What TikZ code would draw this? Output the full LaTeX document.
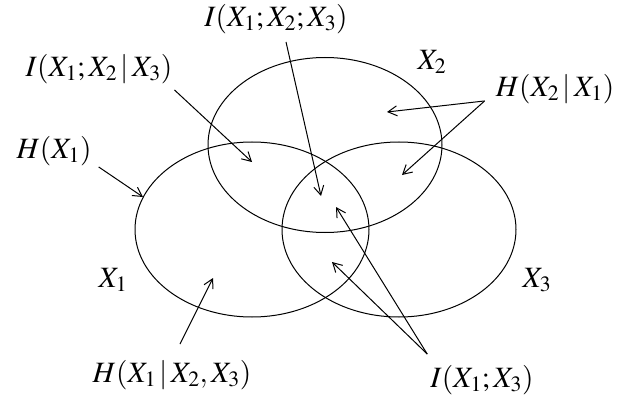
\documentclass[tikz,border=0pt]{standalone}
\usepackage{mathptmx}
\usetikzlibrary{arrows.meta,shapes.geometric}

\tikzset{
  setline/.style={draw, ellipse, line width=1pt, minimum width=234pt, minimum height=175pt, inner sep=0pt},
  lbl/.style={inner sep=0pt, font=\fontsize{29.5}{34}\selectfont},
  arr/.style={-{Straight Barb[length=9pt,width=10pt]}, line width=1pt},
}
\newcommand{\givn}{\,|\,}

\begin{document}
\begin{tikzpicture}[x=1pt, y=-1pt]
    \useasboundingbox (0,0) rectangle (622,404);

    % the three sets
    \node[setline] (xa) at (252,229.5) {};
    \node[setline] (xb) at (325,145) {};
    \node[setline] (xc) at (399,229.5) {};

    \node[lbl] (la) at (113,280) {$X_1$};
    \node[lbl] (lb) at (432,62) {$X_2$};
    \node[lbl] (lc) at (537,280) {$X_3$};

    % labels
    \node[lbl] (iabc) at (276,19) {$I(X_1;X_2;X_3)$};
    \node[lbl] (iab) at (99,69) {$I(X_1;X_2\givn X_3)$};
    \node[lbl] (ha) at (54,151) {$H(X_1)$};
    \node[lbl] (hba) at (555,89) {$H(X_2\givn X_1)$};
    \node[lbl] (habc) at (172,375) {$H(X_1\givn X_2,X_3)$};
    \node[lbl] (iac) at (482,380) {$I(X_1;X_3)$};

    % arrow tips
    \coordinate (tabc) at (321,196);
    \coordinate (tab) at (252,162);
    \coordinate (ta) at (143,197);
    \coordinate (tba) at (387,112);
    \coordinate (tbc) at (402,175);
    \coordinate (tabcx) at (213,278);
    \coordinate (tacu) at (336,207);
    \coordinate (tacl) at (332,262);

    \draw[arr] ([shift={(10,8)}]iabc.south) -- (tabc);
    \draw[arr] ([shift={(2,6)}]iab.south east) -- (tab);
    \draw[arr] ([shift={(7,1)}]ha.south east) -- (ta);
    \draw[arr] ([shift={(-11,-3)}]hba.south west) -- (tba);
    \draw[arr] ([shift={(-11,-3)}]hba.south west) -- (tbc);
    \draw[arr] ([shift={(8,-16)}]habc.north) -- (tabcx);
    \draw[arr] ([shift={(-3,-11)}]iac.north west) -- (tacu);
    \draw[arr] ([shift={(-3,-11)}]iac.north west) -- (tacl);
\end{tikzpicture}
\end{document}
